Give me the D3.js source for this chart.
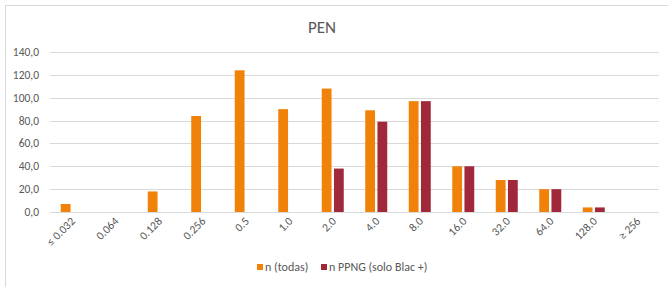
<!DOCTYPE html>
<html>
<head>
<script src="https://cdnjs.cloudflare.com/ajax/libs/d3/7.8.5/d3.min.js"></script>
<style>
    body { margin: 0; background: #fff; font-family: Calibri, Carlito, "Open Sans", sans-serif; }
    svg text { fill: #595959; }
</style>
</head>
<body>
<div id="chart"></div>
<script>
    // Chart data
    const categories = ["≤ 0.032", "0.064", "0.128", "0.256", "0.5", "1.0", "2.0", "4.0", "8.0", "16.0", "32.0", "64.0", "128.0", "≥ 256"];
    const nTodas = [7, 0, 18, 84, 124, 90, 108, 89, 97, 40, 28, 20, 4, 0];
    const nPPNG = [0, 0, 0, 0, 0, 0, 38, 79, 97, 40, 28, 20, 4, 0];
    const seriesNames = ["n (todas)", "n PPNG (solo Blac +)"];
    const yTicks = [0, 20, 40, 60, 80, 100, 120, 140];

    const width = 668, height = 287;
    const margin = { top: 52, right: 9, bottom: 75, left: 50 };
    const colors = ["#F0820A", "#A0283A"];

    const svg = d3.select("#chart").append("svg")
        .attr("width", width)
        .attr("height", height);

    // outer chart border
    svg.append("rect")
        .attr("x", 5.5).attr("y", 5.5)
        .attr("width", 680).attr("height", 300)
        .attr("fill", "none").attr("stroke", "#d9d9d9");

    const x = d3.scaleBand()
        .domain(categories)
        .range([margin.left, width - margin.right]);

    const y = d3.scaleLinear()
        .domain([0, 140])
        .range([height - margin.bottom, margin.top]);

    // gridlines
    svg.append("g")
        .selectAll("line")
        .data(yTicks)
        .join("line")
        .attr("x1", margin.left).attr("x2", width - margin.right)
        .attr("y1", d => Math.round(y(d)) + 0.5).attr("y2", d => Math.round(y(d)) + 0.5)
        .attr("stroke", "#d9d9d9");

    // y tick labels
    svg.append("g")
        .selectAll("text")
        .data(yTicks)
        .join("text")
        .attr("x", 39)
        .attr("y", d => y(d) + 4)
        .attr("text-anchor", "end")
        .attr("font-size", 11.5)
        .text(d => d.toFixed(1).replace(".", ","));

    // bars
    const barW = 9.8, gap = 2.4;
    const series = [nTodas, nPPNG];
    series.forEach((vals, s) => {
        svg.append("g")
            .selectAll("rect")
            .data(vals.map((v, i) => ({ v, c: categories[i] })).filter(d => d.v > 0))
            .join("rect")
            .attr("x", d => x(d.c) + x.bandwidth() / 2 + (s === 0 ? -barW - gap / 2 : gap / 2))
            .attr("y", d => y(d.v))
            .attr("width", barW)
            .attr("height", d => y(0) - y(d.v))
            .attr("fill", colors[s]);
    });

    // x labels rotated
    svg.append("g")
        .selectAll("text")
        .data(categories)
        .join("text")
        .attr("transform", d => `translate(${x(d) + x.bandwidth() / 2 + 4},${y(0) + 10}) rotate(-45)`)
        .attr("text-anchor", "end")
        .attr("font-size", 11.5)
        .text(d => d);

    // title
    svg.append("text")
        .attr("x", 322).attr("y", 33)
        .attr("text-anchor", "middle")
        .attr("font-size", 17)
        .text("PEN");

    // legend
    const legendX = [257, 321];
    seriesNames.forEach((name, i) => {
        svg.append("rect")
            .attr("x", legendX[i]).attr("y", 264)
            .attr("width", 6).attr("height", 6)
            .attr("fill", colors[i]);
        svg.append("text")
            .attr("x", legendX[i] + 8).attr("y", 271)
            .attr("font-size", 12)
            .text(name);
    });
</script>
</body>
</html>
